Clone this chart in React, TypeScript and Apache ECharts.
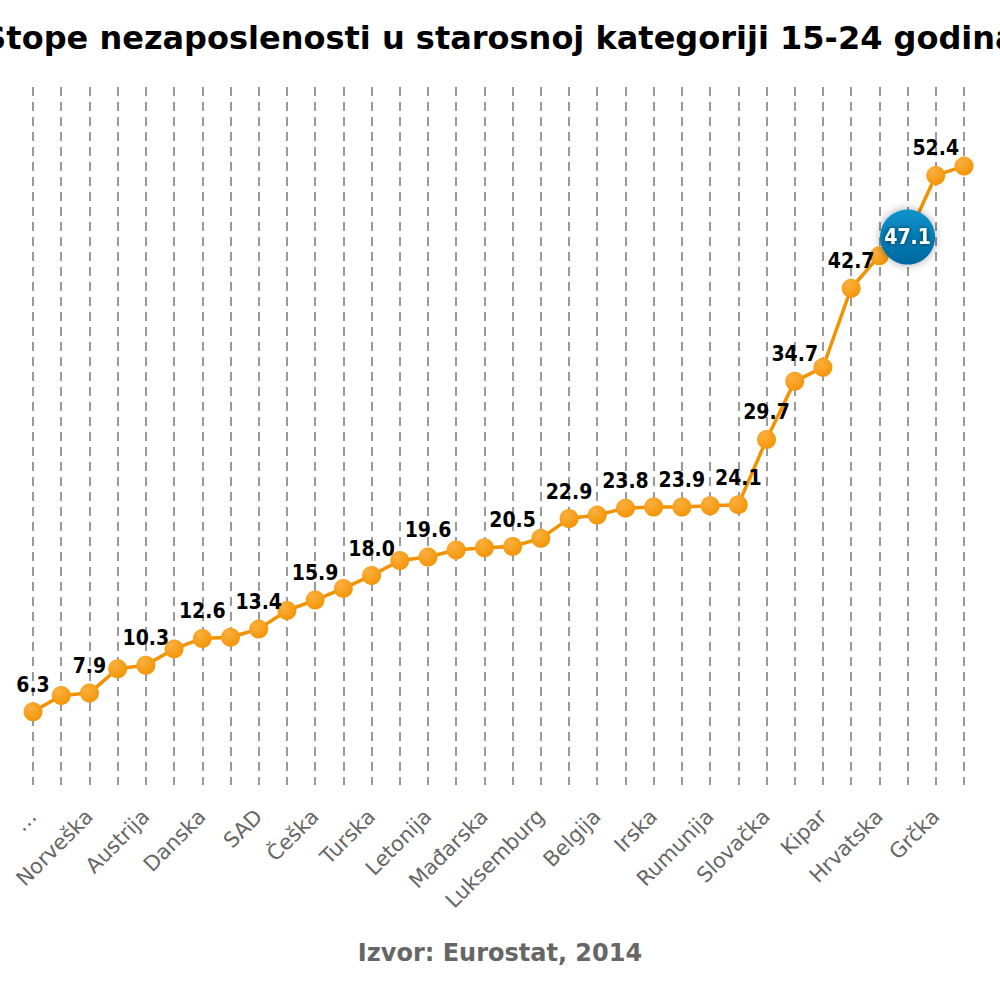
import React, { useEffect, useRef } from 'react';
import * as echarts from 'echarts';

const countries = [
  '…', 'Njemačka', 'Norveška', 'Island', 'Austrija', 'Malta', 'Danska', 'Holandija',
  'SAD', 'Estonija', 'Češka', 'Velika Britanija', 'Turska', 'Litvanija', 'Letonija',
  'Slovenija', 'Mađarska', 'Finska', 'Luksemburg', 'Švedska', 'Belgija', 'Bugarska',
  'Irska', 'Poljska', 'Rumunija', 'Francuska', 'Slovačka', 'Portugal', 'Kipar',
  'Italija', 'Hrvatska', 'Srbija', 'Grčka', 'Španija',
];

const rates = [
  6.3, 7.7, 7.9, 10.0, 10.3, 11.7, 12.6, 12.7, 13.4, 15.0, 15.9, 16.9, 18.0, 19.3, 19.6,
  20.2, 20.4, 20.5, 21.2, 22.9, 23.2, 23.8, 23.9, 23.9, 24.0, 24.1, 29.7, 34.7, 35.9,
  42.7, 45.5, 47.1, 52.4, 53.2,
];

// points whose value is printed above them (the rest overlap in the original)
const labelled = [0, 2, 4, 6, 8, 10, 12, 14, 17, 19, 21, 23, 25, 26, 27, 29, 32];
const highlighted = 'Srbija';

const FONT = 'DejaVu Sans';
const LABEL_FONT = '"DejaVu Sans Condensed", "DejaVu Sans"';
const ORANGE = '#F39200';

export default function App() {
  const ref = useRef<HTMLDivElement | null>(null);

  useEffect(() => {
    if (!ref.current) return;
    const chart = echarts.init(ref.current, undefined, { renderer: 'svg' });

    const orangeFill = new echarts.graphic.RadialGradient(0.35, 0.3, 0.8, [
      { offset: 0, color: '#FBB040' },
      { offset: 1, color: '#F39200' },
    ]);
    const blueFill = new echarts.graphic.LinearGradient(0, 0, 0, 1, [
      { offset: 0, color: '#0A93CC' },
      { offset: 1, color: '#00679F' },
    ]);

    const data = rates.map((v, i) => {
      if (countries[i] === highlighted) {
        return {
          value: v,
          symbolSize: 55,
          itemStyle: { color: blueFill, shadowBlur: 10, shadowColor: 'rgba(0,0,0,0.35)' },
          label: {
            show: true,
            position: 'inside',
            color: '#fff',
            fontSize: 21,
            fontWeight: 'bold',
            fontFamily: LABEL_FONT,
            textShadowColor: 'rgba(0,0,0,0.7)',
            textShadowBlur: 4,
          },
          z: 5,
        };
      }
      return { value: v, label: { show: labelled.includes(i) } };
    });

    chart.setOption({
      animation: false,
      textStyle: { fontFamily: FONT },
      title: [
        {
          text: 'Stope nezaposlenosti u starosnoj kategoriji 15-24 godina',
          left: 'center',
          top: 17,
          textStyle: { fontFamily: FONT, fontSize: 32, fontWeight: 'bold', color: '#000' },
        },
        {
          text: 'Izvor: Eurostat, 2014',
          left: 'center',
          top: 936,
          textStyle: { fontFamily: FONT, fontSize: 24, fontWeight: 'bold', color: '#666' },
        },
      ],
      grid: { left: 33, right: 36, top: 87, bottom: 215, containLabel: false },
      xAxis: {
        type: 'category',
        data: countries,
        boundaryGap: false,
        axisLine: { show: false },
        axisTick: { show: false, interval: 0 },
        axisLabel: {
          interval: 1,
          rotate: 45,
          margin: 28,
          color: '#666',
          fontSize: 21,
          fontFamily: FONT,
        },
        splitLine: {
          show: true,
          interval: 0,
          lineStyle: { color: '#999', width: 2, type: [9, 6] },
        },
      },
      yAxis: {
        type: 'value',
        min: 0,
        max: 60,
        show: false,
        splitLine: { show: false },
      },
      series: [
        {
          type: 'line',
          data,
          symbol: 'circle',
          symbolSize: 19,
          showAllSymbol: true,
          lineStyle: { color: ORANGE, width: 3.5 },
          itemStyle: { color: orangeFill, borderWidth: 0 },
          label: {
            position: 'top',
            distance: 7,
            color: '#000',
            fontSize: 21,
            fontWeight: 'bold',
            fontFamily: LABEL_FONT,
            formatter: (p: any) => Number(p.value).toFixed(1),
          },
          emphasis: { disabled: true },
        },
      ],
    });

    return () => chart.dispose();
  }, []);

  return <div ref={ref} style={{ width: 1000, height: 1000, position: 'absolute', left: 0, top: 0 }} />;
}
